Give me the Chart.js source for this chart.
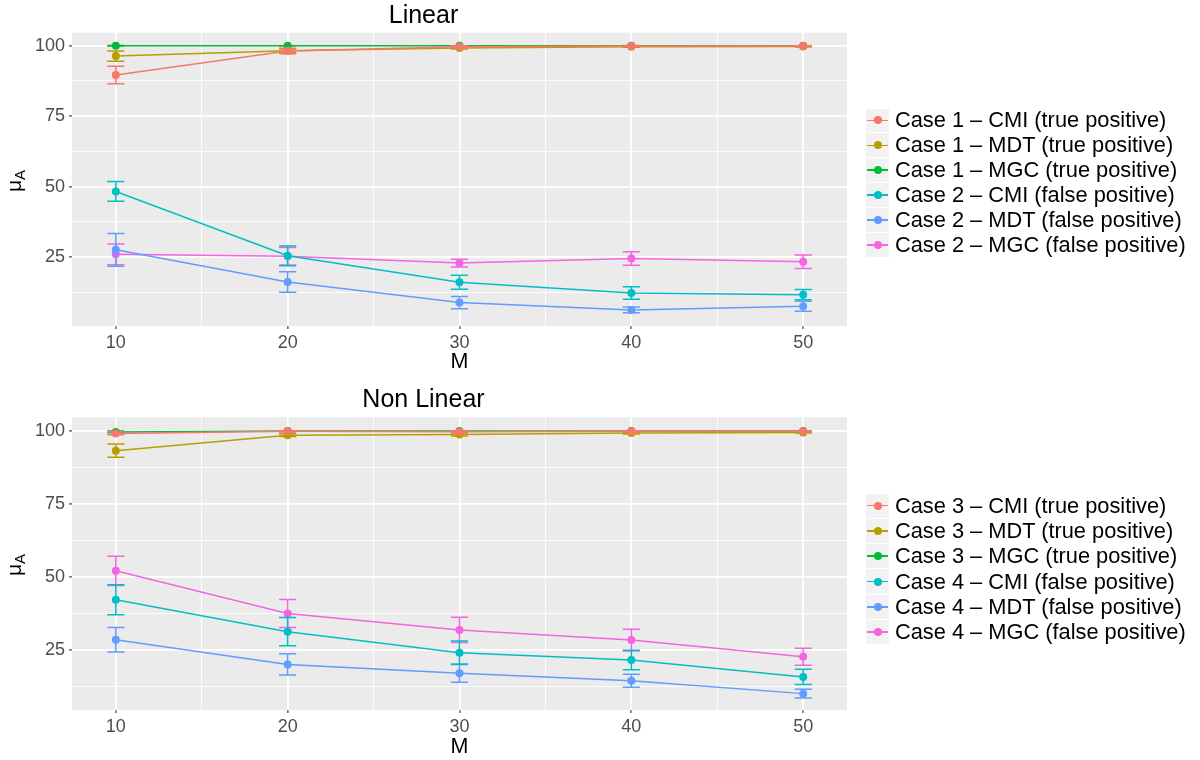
<!DOCTYPE html>
<html>
<head>
    <meta charset="UTF-8">
    <title>Linear / Non Linear</title>
    <script src="https://cdn.jsdelivr.net/npm/chart.js"></script>
    <style>
        body {
            margin: 0;
            background: #fff;
            font-family: "Liberation Sans", Arial, sans-serif;
        }

        #page {
            position: relative;
            width: 1200px;
            height: 760px;
        }

        .panel {
            position: absolute;
            left: 0;
            width: 1200px;
            height: 380px;
        }

        .ytitle {
            position: absolute;
            left: 15px;
            font-size: 21px;
            color: #000;
            white-space: nowrap;
            transform: translate(-50%, -50%) rotate(-90deg);
        }

        .ytitle sub {
            font-size: 15px;
            vertical-align: -4px;
        }

        .legend {
            position: absolute;
            left: 866px;
        }

        .legend-row {
            display: flex;
            align-items: center;
            font-size: 21.8px;
            color: #000;
            white-space: nowrap;
        }

        .legend-key {
            position: relative;
            width: 23px;
            background: #F2F2F2;
            margin-right: 6px;
        }

        .legend-key .ln {
            position: absolute;
            left: 1px;
            right: 1px;
            top: 50%;
            height: 1.5px;
            margin-top: -0.75px;
        }

        .legend-key .dt {
            position: absolute;
            left: 50%;
            top: 50%;
            width: 8px;
            height: 8px;
            margin: -4px 0 0 -4px;
            border-radius: 50%;
        }
    </style>
</head>
<body>
<div id="page">
    <div class="panel" style="top: 0"><canvas id="chart-linear" width="1200" height="380"></canvas></div>
    <div class="panel" style="top: 380px"><canvas id="chart-nonlinear" width="1200" height="380"></canvas></div>
    <div class="ytitle" style="top: 181px">μ<sub>A</sub></div>
    <div class="ytitle" style="top: 565px">μ<sub>A</sub></div>
    <div class="legend" id="legend-linear" style="top: 108px"></div>
    <div class="legend" id="legend-nonlinear" style="top: 493px"></div>
</div>

<script>
    // x values (M)
    const M = [10, 20, 30, 40, 50];
    const xTicks = [10, 15, 20, 25, 30, 35, 40, 45, 50];
    const yTicks = [12.5, 25, 37.5, 50, 62.5, 75, 87.5, 100];

    const colors = ["#F8766D", "#B79F00", "#00BA38", "#00BFC4", "#619CFF", "#F564E3"];

    // Linear
    const linearLabels = [
        "Case 1 \u2013 CMI (true positive)",
        "Case 1 \u2013 MDT (true positive)",
        "Case 1 \u2013 MGC (true positive)",
        "Case 2 \u2013 CMI (false positive)",
        "Case 2 \u2013 MDT (false positive)",
        "Case 2 \u2013 MGC (false positive)"
    ];
    const case1CMI = [89.6, 98.1, 99.6, 99.9, 99.9];
    const case1CMIErr = [3.1, 1.0, 0.4, 0.2, 0.1];
    const case1MDT = [96.3, 98.2, 99.2, 99.6, 99.7];
    const case1MDTErr = [1.8, 0.6, 0.4, 0.2, 0.2];
    const case1MGC = [100, 100, 100, 100, 100];
    const case1MGCErr = [0.1, 0, 0, 0, 0];
    const case2CMI = [48.3, 25.5, 16.1, 12.3, 11.7];
    const case2CMIErr = [3.5, 3.5, 2.5, 2.2, 1.8];
    const case2MDT = [27.6, 16.2, 8.9, 6.3, 7.6];
    const case2MDTErr = [5.8, 3.6, 2.2, 1.0, 1.8];
    const case2MGC = [26.0, 25.3, 22.9, 24.5, 23.4];
    const case2MGCErr = [3.7, 3.1, 1.4, 2.4, 2.4];

    // Non Linear
    const nonLinearLabels = [
        "Case 3 \u2013 CMI (true positive)",
        "Case 3 \u2013 MDT (true positive)",
        "Case 3 \u2013 MGC (true positive)",
        "Case 4 \u2013 CMI (false positive)",
        "Case 4 \u2013 MDT (false positive)",
        "Case 4 \u2013 MGC (false positive)"
    ];
    const case3CMI = [99.2, 99.9, 99.8, 99.9, 99.9];
    const case3CMIErr = [0.5, 0.2, 0.3, 0.2, 0.1];
    const case3MDT = [93.3, 98.6, 98.8, 99.3, 99.5];
    const case3MDTErr = [2.3, 0.5, 0.5, 0.3, 0.2];
    const case3MGC = [99.7, 100, 100, 100, 100];
    const case3MGCErr = [0.3, 0, 0, 0, 0];
    const case4CMI = [42.3, 31.4, 24.2, 21.7, 15.9];
    const case4CMIErr = [5.1, 4.8, 4.0, 3.3, 2.6];
    const case4MDT = [28.6, 20.2, 17.2, 14.6, 10.2];
    const case4MDTErr = [4.2, 3.6, 3.1, 2.2, 1.5];
    const case4MGC = [52.2, 37.6, 32.0, 28.5, 22.8];
    const case4MGCErr = [5.0, 4.8, 4.3, 3.7, 2.9];

    const FONT = "'Liberation Sans', Arial, sans-serif";

    // grey panel like ggplot
    const panelBg = {
        id: 'panelBg',
        beforeDraw(chart) {
            const a = chart.chartArea;
            chart.ctx.save();
            chart.ctx.fillStyle = '#EBEBEB';
            chart.ctx.fillRect(a.left, a.top, a.right - a.left, a.bottom - a.top);
            chart.ctx.restore();
        }
    };

    // error bars, caps are 1 unit of M wide
    const errorBars = {
        id: 'errorBars',
        beforeDatasetDraw(chart, args) {
            const ds = chart.data.datasets[args.index];
            if (!ds.errors) return;
            const xs = chart.scales.x, ys = chart.scales.y;
            const ctx = chart.ctx;
            ctx.save();
            ctx.strokeStyle = ds.borderColor;
            ctx.lineWidth = 1.5;
            ds.data.forEach((p, i) => {
                const e = ds.errors[i];
                const top = ys.getPixelForValue(p.y + e);
                const bot = ys.getPixelForValue(p.y - e);
                const cx = xs.getPixelForValue(p.x);
                const l = xs.getPixelForValue(p.x - 0.5);
                const r = xs.getPixelForValue(p.x + 0.5);
                ctx.beginPath();
                ctx.moveTo(cx, top);
                ctx.lineTo(cx, bot);
                ctx.moveTo(l, top);
                ctx.lineTo(r, top);
                ctx.moveTo(l, bot);
                ctx.lineTo(r, bot);
                ctx.stroke();
            });
            ctx.restore();
        }
    };

    function makeDatasets(labels, values, errors) {
        return values.map((vals, i) => ({
            label: labels[i],
            data: vals.map((v, j) => ({x: M[j], y: v})),
            errors: errors[i],
            borderColor: colors[i],
            backgroundColor: colors[i],
            borderWidth: 1.5,
            pointRadius: 4,
            pointBorderWidth: 0,
            pointBackgroundColor: colors[i],
            tension: 0,
            fill: false
        }));
    }

    function makeChart(id, title, labels, values, errors, cfg) {
        const ctx = document.getElementById(id).getContext('2d');
        return new Chart(ctx, {
            type: 'line',
            data: {datasets: makeDatasets(labels, values, errors)},
            plugins: [panelBg, errorBars],
            options: {
                responsive: false,
                animation: false,
                layout: {padding: {left: 0, right: 353, top: 0, bottom: 0}},
                plugins: {
                    legend: {display: false},
                    tooltip: {enabled: false},
                    title: {
                        display: true,
                        text: title,
                        color: '#000',
                        font: {family: FONT, size: 25, weight: 'normal'},
                        padding: cfg.titlePad
                    }
                },
                scales: {
                    x: {
                        type: 'linear',
                        min: 7.45,
                        max: 52.55,
                        afterBuildTicks: s => { s.ticks = xTicks.map(v => ({value: v})); },
                        afterFit: s => { s.height = cfg.xHeight; },
                        ticks: {
                            autoSkip: false,
                            maxRotation: 0,
                            padding: 3.5,
                            color: '#4D4D4D',
                            font: {family: FONT, size: 18},
                            callback: v => (v % 10 === 0 ? v : '')
                        },
                        grid: {
                            color: '#FFFFFF',
                            lineWidth: c => (c.tick && c.tick.value % 10 === 0 ? 1.8 : 0.9),
                            tickColor: c => (c.tick && c.tick.value % 10 === 0 ? '#333333' : 'rgba(0,0,0,0)'),
                            tickLength: 3,
                            tickWidth: 1.1
                        },
                        border: {display: false},
                        title: {
                            display: true,
                            text: 'M',
                            color: '#000',
                            font: {family: FONT, size: 21.5},
                            padding: {top: 0, bottom: cfg.mPad}
                        }
                    },
                    y: {
                        min: cfg.yMin,
                        max: cfg.yMax,
                        afterBuildTicks: s => { s.ticks = yTicks.map(v => ({value: v})); },
                        afterFit: s => { s.width = 72; },
                        ticks: {
                            padding: 4,
                            color: '#4D4D4D',
                            font: {family: FONT, size: 18},
                            callback: v => (v % 25 === 0 ? v : '')
                        },
                        grid: {
                            color: '#FFFFFF',
                            lineWidth: c => (c.tick && c.tick.value % 25 === 0 ? 1.8 : 0.9),
                            tickColor: c => (c.tick && c.tick.value % 25 === 0 ? '#333333' : 'rgba(0,0,0,0)'),
                            tickLength: 3,
                            tickWidth: 1.1
                        },
                        border: {display: false}
                    }
                }
            }
        });
    }

    function buildLegend(id, labels, rowH) {
        const box = document.getElementById(id);
        box.innerHTML = labels.map((lab, i) =>
            `<div class="legend-row" style="height:${rowH}px">` +
            `<div class="legend-key" style="height:${rowH - 1}px">` +
            `<div class="ln" style="background:${colors[i]}"></div>` +
            `<div class="dt" style="background:${colors[i]}"></div></div>` +
            `<span>${lab}</span></div>`).join('');
    }

    makeChart('chart-linear', 'Linear', linearLabels,
        [case1CMI, case1MDT, case1MGC, case2CMI, case2MDT, case2MGC],
        [case1CMIErr, case1MDTErr, case1MGCErr, case2CMIErr, case2MDTErr, case2MGCErr],
        {yMin: 0.6, yMax: 104.6, titlePad: {top: 1.5, bottom: 1.2}, xHeight: 54, mPad: 5});

    makeChart('chart-nonlinear', 'Non Linear', nonLinearLabels,
        [case3CMI, case3MDT, case3MGC, case4CMI, case4MDT, case4MGC],
        [case3CMIErr, case3MDTErr, case3MGCErr, case4CMIErr, case4MDTErr, case4MGCErr],
        {yMin: 4.6, yMax: 104.7, titlePad: {top: 5.5, bottom: 1.8}, xHeight: 50, mPad: 0.5});

    buildLegend('legend-linear', linearLabels, 24.9);
    buildLegend('legend-nonlinear', nonLinearLabels, 25.3);
</script>
</body>
</html>
